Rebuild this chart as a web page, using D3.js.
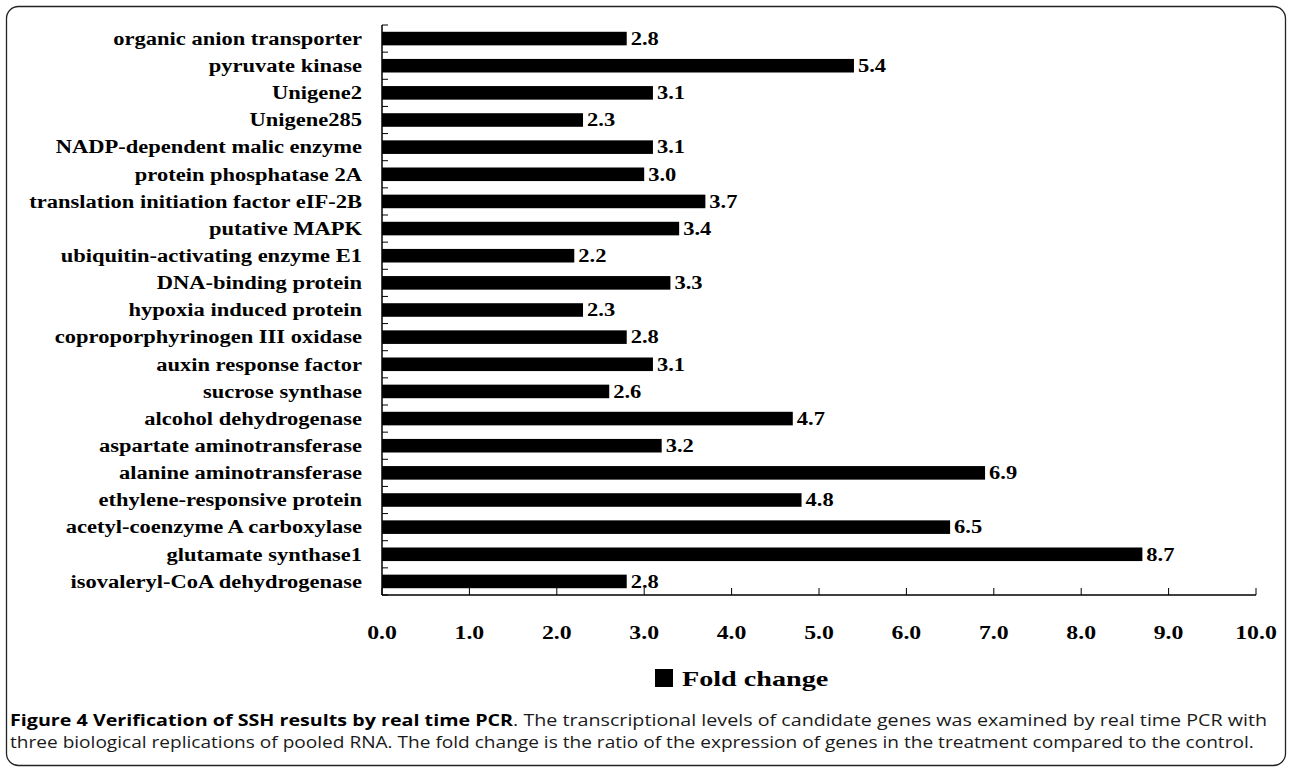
<!DOCTYPE html>
<html lang="en">
  <head>
    <meta charset="utf-8">
    <title>Fold change</title>
    <script src="https://d3js.org/d3.v7.js"></script>
    <style>
      body { margin: 0; background: #fff; }
    </style>
  </head>

  <body>

  <script>

// data, top to bottom as drawn

  var genes = [
    "organic anion transporter",
    "pyruvate kinase",
    "Unigene2",
    "Unigene285",
    "NADP-dependent malic enzyme",
    "protein phosphatase 2A",
    "translation initiation factor eIF-2B",
    "putative MAPK",
    "ubiquitin-activating enzyme E1",
    "DNA-binding protein",
    "hypoxia induced protein",
    "coproporphyrinogen III oxidase",
    "auxin response factor",
    "sucrose synthase",
    "alcohol dehydrogenase",
    "aspartate aminotransferase",
    "alanine aminotransferase",
    "ethylene-responsive protein",
    "acetyl-coenzyme A carboxylase",
    "glutamate synthase1",
    "isovaleryl-CoA dehydrogenase"
  ];
  var foldChange = [2.8, 5.4, 3.1, 2.3, 3.1, 3.0, 3.7, 3.4, 2.2, 3.3, 2.3,
                    2.8, 3.1, 2.6, 4.7, 3.2, 6.9, 4.8, 6.5, 8.7, 2.8];
  var xTicks = [0, 1, 2, 3, 4, 5, 6, 7, 8, 9, 10];
  var seriesName = "Fold change";
  var captionBold = "Figure 4 Verification of SSH results by real time PCR";
  var captionRest = [
    ". The transcriptional levels of candidate genes was examined by real time PCR with",
    "three biological replications of pooled RNA. The fold change is the ratio of the expression of genes in the treatment compared to the control."
  ];

  var w = 1292;
  var h = 769;
  var margin = {top: 25, right: 36, bottom: 174, left: 382};
  var innerWidth = w - margin.left - margin.right;
  var innerHeight = h - margin.top - margin.bottom;
  var k = 1.25;   // the original figure is stretched sideways
  var serif = "'Liberation Serif', 'Times New Roman', serif";

  var bardata = genes.map((g, i) => ({gene: g, value: foldChange[i]}));

  var svg = d3.select("body")
    .append("svg")
      .attr("width", w)
      .attr("height", h);

  // widen glyphs like the original without a transform
  function stretch(sel, f) {
    sel.each(function () {
      var len = this.getComputedTextLength();
      d3.select(this)
          .attr("textLength", len * (f || k))
          .attr("lengthAdjust", "spacingAndGlyphs");
    });
  }

  // rounded frame
  svg.append("rect")
      .attr("x", 6.5)
      .attr("y", 6.5)
      .attr("width", w - 13)
      .attr("height", h - 10)
      .attr("rx", 12)
      .attr("fill", "none")
      .attr("stroke", "#222")
      .attr("stroke-width", 1.3);

  var xScale = d3.scaleLinear()
      .domain([0, 10])
      .range([margin.left, margin.left + innerWidth]);

  var yScale = d3.scaleBand()
      .domain(genes)
      .range([margin.top, margin.top + innerHeight])
      .paddingInner(0.5)
      .paddingOuter(0.25);

  var y0 = margin.top + innerHeight;

  // y axis: line and inner ticks at band edges
  var edges = d3.range(genes.length + 1)
      .map(i => margin.top + i * innerHeight / genes.length);

  svg.append("line")
      .attr("x1", margin.left).attr("x2", margin.left)
      .attr("y1", margin.top).attr("y2", y0)
      .attr("stroke", "#000")
      .attr("stroke-width", 1.5);

  svg.selectAll("line.ytick")
      .data(edges)
    .enter().append("line")
      .attr("class", "ytick")
      .attr("x1", margin.left).attr("x2", margin.left + 6)
      .attr("y1", d => d).attr("y2", d => d)
      .attr("stroke", "#000");

  // x axis line and upward ticks
  svg.append("line")
      .attr("x1", xScale(0)).attr("x2", xScale(10))
      .attr("y1", y0).attr("y2", y0)
      .attr("stroke", "#000")
      .attr("stroke-width", 1.5);

  svg.selectAll("line.xtick")
      .data(xTicks)
    .enter().append("line")
      .attr("class", "xtick")
      .attr("x1", d => xScale(d)).attr("x2", d => xScale(d))
      .attr("y1", y0).attr("y2", y0 - 7)
      .attr("stroke", "#000");

  svg.selectAll("rect.bar")
      .data(bardata)
    .enter().append("rect")
      .attr("class", "bar")
      .attr("x", xScale(0))
      .attr("y", d => yScale(d.gene))
      .attr("width", d => xScale(d.value) - xScale(0))
      .attr("height", yScale.bandwidth())
      .attr("fill", "#000");

  // value labels
  svg.selectAll("text.val")
      .data(bardata)
    .enter().append("text")
      .attr("class", "val")
      .attr("x", d => xScale(d.value) + 4)
      .attr("y", d => yScale(d.gene) + yScale.bandwidth() / 2)
      .attr("dy", "0.35em")
      .attr("font-family", serif)
      .attr("font-weight", "bold")
      .attr("font-size", 18)
      .text(d => d.value.toFixed(1))
      .call(stretch);

  // gene labels
  svg.selectAll("text.gene")
      .data(genes)
    .enter().append("text")
      .attr("class", "gene")
      .attr("x", margin.left - 20)
      .attr("y", d => yScale(d) + yScale.bandwidth() / 2)
      .attr("dy", "0.35em")
      .attr("text-anchor", "end")
      .attr("font-family", serif)
      .attr("font-weight", "bold")
      .attr("font-size", 18)
      .text(d => d)
      .call(stretch);

  // x tick labels
  svg.selectAll("text.xlab")
      .data(xTicks)
    .enter().append("text")
      .attr("class", "xlab")
      .attr("x", d => xScale(d))
      .attr("y", y0 + 37)
      .attr("dy", "0.35em")
      .attr("text-anchor", "middle")
      .attr("font-family", serif)
      .attr("font-weight", "bold")
      .attr("font-size", 19)
      .text(d => d.toFixed(1))
      .call(stretch);

  // legend
  svg.append("rect")
      .attr("x", 655)
      .attr("y", 669)
      .attr("width", 18)
      .attr("height", 18)
      .attr("fill", "#000");

  svg.append("text")
      .attr("x", 682)
      .attr("y", 678)
      .attr("dy", "0.35em")
      .attr("font-family", serif)
      .attr("font-weight", "bold")
      .attr("font-size", 22)
      .text(seriesName)
      .call(stretch, 1.28);

  // caption
  var cap = svg.append("g")
      .attr("font-family", "'Open Sans', sans-serif")
      .attr("font-size", 15.5)
      .attr("fill", "#1a1a1a");

  var line1 = cap.append("text")
      .attr("x", 10)
      .attr("y", 726);
  line1.append("tspan")
      .attr("font-weight", "bold")
      .attr("fill", "#000")
      .text(captionBold);
  line1.append("tspan")
      .text(captionRest[0]);
  line1.call(stretch, 1.27);

  cap.append("text")
      .attr("x", 10)
      .attr("y", 748)
      .text(captionRest[1])
      .call(stretch, 1.23);

    </script>

  </body>

</html>
